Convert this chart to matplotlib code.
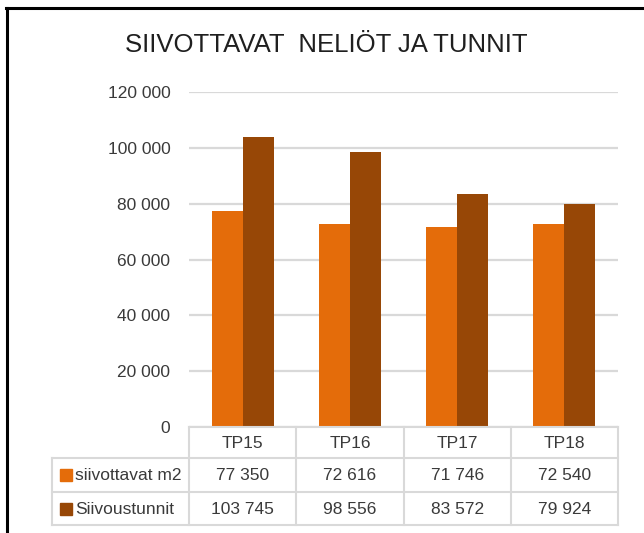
import matplotlib
matplotlib.use("Agg")
import matplotlib.pyplot as plt
from matplotlib.lines import Line2D
from matplotlib.patches import Rectangle
import matplotlib.transforms as mtransforms

plt.rcParams['font.family'] = ['Liberation Sans', 'DejaVu Sans']

# ---- data ----
title = "SIIVOTTAVAT  NELIÖT JA TUNNIT"
categories = ["TP15", "TP16", "TP17", "TP18"]
series_names = ["siivottavat m2", "Siivoustunnit"]
siivottavat_m2 = [77350, 72616, 71746, 72540]
siivoustunnit = [103745, 98556, 83572, 79924]
y_ticks = [0, 20000, 40000, 60000, 80000, 100000, 120000]

colors = ["#E46C0A", "#974706"]
grid_col = "#D9D9D9"
text_col = "#3A3A3A"

W, H = 644, 533
fig = plt.figure(figsize=(W / 100, H / 100), dpi=100)

def fx(px):
    return px / W

def fy(py):
    return 1 - py / H

ax_left, ax_right, ax_top, ax_bottom = 189, 618, 92, 427
ax = fig.add_axes([fx(ax_left), fy(ax_bottom), fx(ax_right) - fx(ax_left), fy(ax_top) - fy(ax_bottom)])

def fmt(v):
    return f"{v:,}".replace(",", " ")

n = len(categories)
xs = list(range(n))
bw = 0.289
series = [siivottavat_m2, siivoustunnit]
for i, (vals, col) in enumerate(zip(series, colors)):
    off = (i - 0.5) * bw
    ax.bar([x + off for x in xs], vals, width=bw, color=col, zorder=3)

ax.set_xlim(-0.5, n - 0.5)
ax.set_ylim(0, 120000)
ax.set_yticks(y_ticks)
ax.set_yticklabels([fmt(v) for v in y_ticks], fontsize=12.5, color=text_col)
ax.tick_params(axis='y', length=0, pad=13.5)
ax.set_xticks([])
ax.yaxis.grid(True, color=grid_col, linewidth=1.6, zorder=0)
for s in ax.spines.values():
    s.set_visible(False)

# ---- title ----
fig.text(fx(326), fy(44.5), title, ha='center', va='center', fontsize=18.5, color="#1F1F1F")

# ---- data table ----
blend = mtransforms.blended_transform_factory(ax.transData, fig.transFigure)
row_y = [427, 458, 492, 525]   # pixel rows (top of header, row bounds)
label_left = 52
lw = 1.5

# horizontal lines
fig.add_artist(Line2D([fx(ax_left), fx(ax_right)], [fy(row_y[0])] * 2, color=grid_col, lw=lw, transform=fig.transFigure))
for ry in row_y[1:]:
    fig.add_artist(Line2D([fx(label_left), fx(ax_right)], [fy(ry)] * 2, color=grid_col, lw=lw, transform=fig.transFigure))
# vertical lines at category boundaries
for b in range(n + 1):
    fig.add_artist(Line2D([b - 0.5, b - 0.5], [fy(row_y[0]), fy(row_y[-1])], color=grid_col, lw=lw, transform=blend))
fig.add_artist(Line2D([fx(label_left)] * 2, [fy(row_y[1]), fy(row_y[-1])], color=grid_col, lw=lw, transform=fig.transFigure))

# header texts
hdr_y = fy((row_y[0] + row_y[1]) / 2 + 0.5)
for x, c in zip(xs, categories):
    fig.text(x, hdr_y, c, transform=blend, ha='center', va='center', fontsize=12.5, color=text_col)

# rows
for r, (name, vals, col) in enumerate(zip(series_names, series, colors)):
    cy = (row_y[r + 1] + row_y[r + 2]) / 2
    fig.add_artist(Rectangle((fx(60), fy(cy + 6)), fx(12), 12 / H, color=col, transform=fig.transFigure))
    fig.text(fx(75), fy(cy + 0.5), name, ha='left', va='center', fontsize=12.5, color=text_col)
    for x, v in zip(xs, vals):
        fig.text(x, fy(cy + 0.5), fmt(v), transform=blend, ha='center', va='center', fontsize=12.5, color=text_col)

# outer frame (left and top edges visible)
fig.add_artist(Line2D([fx(7), fx(7)], [0, fy(8)], color='black', lw=2.2, transform=fig.transFigure))
fig.add_artist(Line2D([fx(6), 1], [fy(8), fy(8)], color='black', lw=2.2, transform=fig.transFigure))

fig.savefig("out.png", dpi=100, facecolor='white')
